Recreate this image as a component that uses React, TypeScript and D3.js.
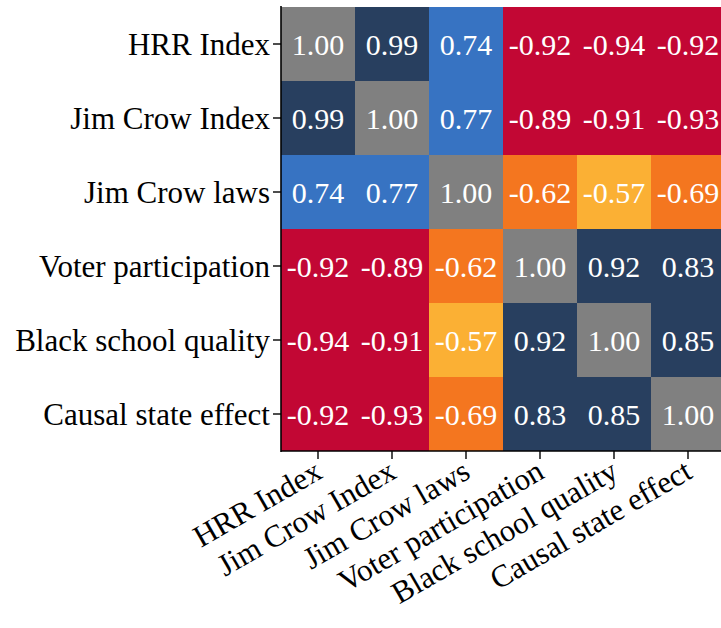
import React from "react";
import * as d3 from "d3";

// Variables in the correlation matrix (row order = column order)
const variables = [
  "HRR Index",
  "Jim Crow Index",
  "Jim Crow laws",
  "Voter participation",
  "Black school quality",
  "Causal state effect",
];

// Pairwise correlations, one array per row
const rowHRR = [1.0, 0.99, 0.74, -0.92, -0.94, -0.92];
const rowJCIndex = [0.99, 1.0, 0.77, -0.89, -0.91, -0.93];
const rowJCLaws = [0.74, 0.77, 1.0, -0.62, -0.57, -0.69];
const rowVoter = [-0.92, -0.89, -0.62, 1.0, 0.92, 0.83];
const rowSchool = [-0.94, -0.91, -0.57, 0.92, 1.0, 0.85];
const rowCausal = [-0.92, -0.93, -0.69, 0.83, 0.85, 1.0];

const matrix = [rowHRR, rowJCIndex, rowJCLaws, rowVoter, rowSchool, rowCausal];

const W = 721;
const H = 628;
const FONT = "'Liberation Serif', 'Times New Roman', serif";

export default function App() {
  const left = 281;
  const top = 7;
  const size = 74 * 6;

  const x = d3.scaleBand<string>().domain(variables).range([left, left + size]);
  const y = d3.scaleBand<string>().domain(variables).range([top, top + size]);

  // Binned colour scale: diagonal (1.0) drawn grey
  const color = d3
    .scaleThreshold<number, string>()
    .domain([-0.8, -0.6, 0, 0.8, 0.995])
    .range(["#c20734", "#f4761f", "#fbb034", "#3773c2", "#283f5f", "#808080"]);

  const cells = matrix.flatMap((row, i) =>
    row.map((v, j) => ({ r: variables[i], c: variables[j], v }))
  );

  const bottom = top + size;
  const tickLen = 8;
  const labelSize = 31;

  return (
    <svg
      width={W}
      height={H}
      style={{ position: "absolute", left: 0, top: 0, background: "#fff" }}
      fontFamily={FONT}
    >
      {cells.map((d, k) => (
        <rect
          key={k}
          x={x(d.c)}
          y={y(d.r)}
          width={x.bandwidth()}
          height={y.bandwidth()}
          fill={color(d.v)}
        />
      ))}
      {cells.map((d, k) => (
        <text
          key={"t" + k}
          x={(x(d.c) as number) + x.bandwidth() / 2}
          y={(y(d.r) as number) + y.bandwidth() / 2}
          textAnchor="middle"
          dominantBaseline="central"
          fontSize={30}
          fill="#fff"
        >
          {d.v.toFixed(2)}
        </text>
      ))}
      {/* spines */}
      <line x1={left} x2={left} y1={top - 1} y2={bottom + 1} stroke="#000" strokeWidth={1.6} />
      <line x1={left} x2={left + size} y1={bottom} y2={bottom} stroke="#000" strokeWidth={1.6} />
      {/* y axis */}
      {variables.map((v) => {
        const cy = (y(v) as number) + y.bandwidth() / 2;
        return (
          <g key={"y" + v}>
            <line x1={left - tickLen} x2={left} y1={cy} y2={cy} stroke="#000" strokeWidth={1.4} />
            <text
              x={left - tickLen - 3}
              y={cy}
              textAnchor="end"
              dominantBaseline="central"
              fontSize={labelSize}
              fill="#000"
            >
              {v}
            </text>
          </g>
        );
      })}
      {/* x axis */}
      {variables.map((v) => {
        const cx = (x(v) as number) + x.bandwidth() / 2;
        const ty = bottom + tickLen + 3;
        return (
          <g key={"x" + v}>
            <line x1={cx} x2={cx} y1={bottom} y2={bottom + tickLen} stroke="#000" strokeWidth={1.4} />
            <text
              transform={`translate(${cx + 6},${ty + 15}) rotate(-30)`}
              textAnchor="end"
              fontSize={labelSize}
              fill="#000"
            >
              {v}
            </text>
          </g>
        );
      })}
    </svg>
  );
}
